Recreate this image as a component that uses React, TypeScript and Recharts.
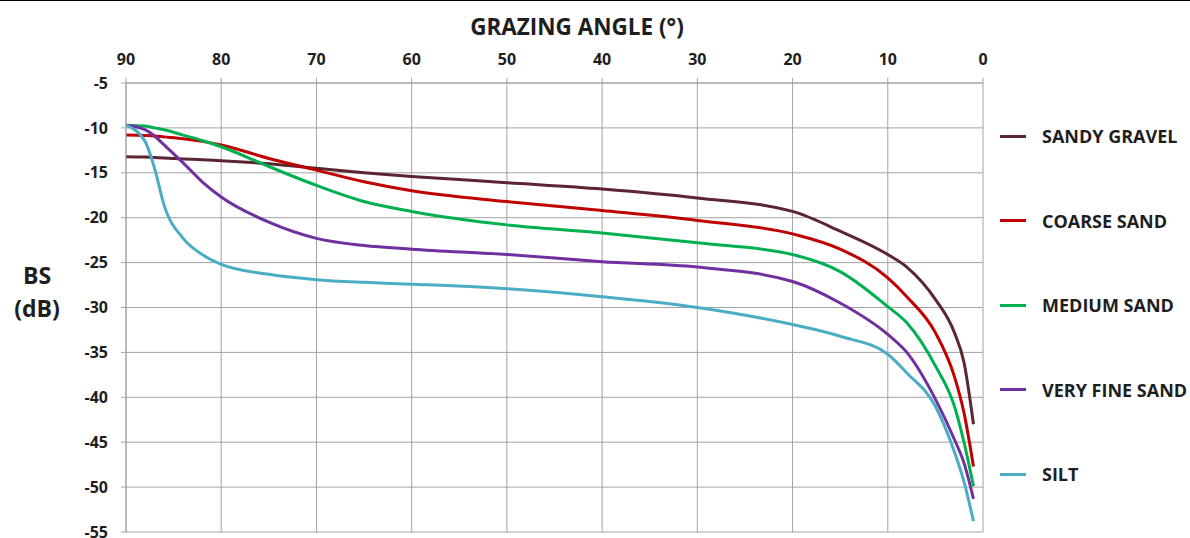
import React from 'react';
import {
  LineChart,
  Line,
  XAxis,
  YAxis,
  CartesianGrid,
  Legend,
} from 'recharts';

// grazing angle in degrees (x axis runs 90 -> 0)
const angles = [90, 88, 87, 86, 84, 82, 80, 75, 70, 65, 60, 50, 40, 30, 20, 15, 10, 8, 5, 3, 2, 1];

// backscatter strength (dB)
const sandyGravel = [-13.2, -13.25, -13.3, -13.35, -13.45, -13.55, -13.65, -14.0, -14.5, -15.0, -15.4, -16.1, -16.8, -17.8, -19.3, -21.5, -24.1, -25.5, -29.1, -32.8, -36.1, -43.0];
const coarseSand = [-10.8, -10.85, -10.9, -11.0, -11.2, -11.5, -11.9, -13.4, -14.7, -16.0, -17.0, -18.2, -19.2, -20.3, -21.8, -23.5, -26.7, -28.8, -32.8, -37.7, -41.7, -47.7];
const mediumSand = [-9.7, -9.8, -10.0, -10.2, -10.8, -11.4, -12.1, -14.3, -16.4, -18.2, -19.3, -20.8, -21.7, -22.8, -24.1, -26.0, -29.9, -31.7, -36.5, -41.0, -45.0, -49.9];
const veryFineSand = [-9.7, -10.2, -10.9, -11.9, -13.9, -16.0, -17.7, -20.5, -22.3, -23.1, -23.5, -24.1, -24.9, -25.5, -27.1, -29.5, -33.0, -35.0, -40.2, -44.7, -47.3, -51.3];
const silt = [-9.7, -11.5, -14.5, -18.6, -22.3, -24.1, -25.2, -26.3, -26.9, -27.2, -27.4, -27.9, -28.8, -30.0, -31.9, -33.2, -35.2, -37.3, -41.0, -46.1, -49.4, -53.8];

const xTicks = [90, 80, 70, 60, 50, 40, 30, 20, 10, 0];
const yTicks = [-5, -10, -15, -20, -25, -30, -35, -40, -45, -50, -55];
const yMinorTicks = Array.from({ length: 51 }, (_, i) => -55 + i);

const series = [
  { key: 'sandyGravel', name: 'SANDY GRAVEL', color: '#5b2630', values: sandyGravel },
  { key: 'coarseSand', name: 'COARSE SAND', color: '#c00000', values: coarseSand },
  { key: 'mediumSand', name: 'MEDIUM SAND', color: '#00b050', values: mediumSand },
  { key: 'veryFineSand', name: 'VERY FINE SAND', color: '#7030a0', values: veryFineSand },
  { key: 'silt', name: 'SILT', color: '#4bacc6', values: silt },
];

const data = angles.map((a, i) => {
  const row: Record<string, number> = { angle: a };
  series.forEach((s) => {
    row[s.key] = s.values[i];
  });
  return row;
});

const FONT = '"Open Sans", Lato, sans-serif';
const TEXT = '#1e1e1e';
const GRID = '#a3a3a3';

// legend keeps the series order (recharts would sort it by name)
const renderLegend = () => (
  <div style={{ fontFamily: FONT }}>
    {series.map((s) => (
      <div
        key={s.key}
        style={{ height: 84.5, display: 'flex', alignItems: 'center' }}
      >
        <div style={{ width: 26, height: 3, background: s.color, marginRight: 16 }} />
        <span style={{ fontSize: 18, fontWeight: 700, color: TEXT, whiteSpace: 'nowrap' }}>
          {s.name}
        </span>
      </div>
    ))}
  </div>
);

export default function App() {
  return (
    <div
      style={{
        width: 1190,
        height: 538,
        borderTop: '1px solid #000',
        boxSizing: 'border-box',
        background: '#fff',
      }}
    >
      <style>{'body{margin:0}'}</style>
      <LineChart
        width={1190}
        height={537}
        data={data}
        margin={{ top: 42, right: 207, bottom: 6, left: 0 }}
      >
        <CartesianGrid stroke={GRID} strokeWidth={1} />
        <XAxis
          dataKey="angle"
          type="number"
          orientation="top"
          reversed
          domain={[0, 90]}
          ticks={xTicks}
          interval={0}
          height={40}
          tickSize={5}
          tickMargin={13}
          axisLine={{ stroke: GRID }}
          tickLine={{ stroke: GRID }}
          tick={{ fill: TEXT, fontSize: 16, fontWeight: 700, fontFamily: FONT }}
          label={{
            content: () => (
              <text
                x={577}
                y={34}
                textAnchor="middle"
                fill={TEXT}
                fontSize={22.5}
                fontWeight={700}
                fontFamily={FONT}
              >
                GRAZING ANGLE (°)
              </text>
            ),
          }}
        />
        <YAxis
          type="number"
          domain={[-55, -5]}
          ticks={yTicks}
          interval={0}
          width={126}
          tickSize={5}
          tickMargin={13}
          axisLine={{ stroke: GRID }}
          tickLine={{ stroke: GRID }}
          tick={{ fill: TEXT, fontSize: 16, fontWeight: 700, fontFamily: FONT }}
          label={{
            content: () => (
              <text
                textAnchor="middle"
                fill={TEXT}
                fontSize={23}
                fontWeight={700}
                fontFamily={FONT}
              >
                <tspan x={37} y={283}>BS</tspan>
                <tspan x={37} y={316}>(dB)</tspan>
              </text>
            ),
          }}
        />
        <YAxis
          yAxisId="minor"
          type="number"
          domain={[-55, -5]}
          ticks={yMinorTicks}
          interval={0}
          width={0}
          tickSize={4}
          axisLine={false}
          tickLine={{ stroke: GRID }}
          tick={false}
        />
        <Legend
          layout="horizontal"
          align="center"
          verticalAlign="middle"
          content={renderLegend}
          wrapperStyle={{ left: 1000, top: 93, width: 190 }}
        />
        {series.map((s) => (
          <Line
            key={s.key}
            type="monotone"
            dataKey={s.key}
            name={s.name}
            stroke={s.color}
            strokeWidth={3}
            dot={false}
            isAnimationActive={false}
          />
        ))}
      </LineChart>
    </div>
  );
}
